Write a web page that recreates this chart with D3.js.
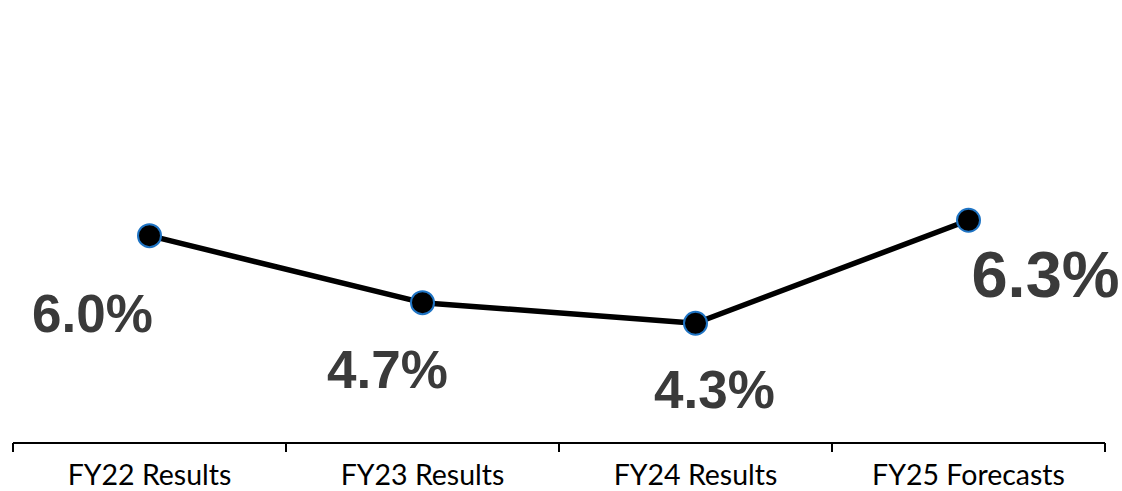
<!DOCTYPE html>
<html>
<head>
<meta charset="utf-8">
<script src="https://cdn.jsdelivr.net/npm/d3@7"></script>
<style>
  body { margin: 0; background: #fff; }
  svg { display: block; }
</style>
</head>
<body>
<svg id="chart" width="1122" height="491"></svg>
<script>
// data
const categories = ["FY22 Results", "FY23 Results", "FY24 Results", "FY25 Forecasts"];
const values = [6.0, 4.7, 4.3, 6.3];
const valueLabels = ["6.0%", "4.7%", "4.3%", "6.3%"];

// label placement, relative to each point (hand placed like the original)
const labelDx = [-57, -35, 19, 77];
const labelDy = [96, 85, 85, 77];
const labelSize = [53, 53, 53, 65];

const width = 1122, height = 491;
const svg = d3.select("#chart");

const x = d3.scaleBand()
  .domain(categories)
  .range([13, 1105])
  .padding(0);

// value axis is hidden, range picked to line up with the picture
const y = d3.scaleLinear()
  .domain([2, 10])
  .range([441.7, 29.7]);

const axisY = 443;

// category axis
const gx = svg.append("g")
  .attr("transform", `translate(0,${axisY})`);

gx.append("line")
  .attr("x1", 13).attr("x2", 1105)
  .attr("stroke", "#000").attr("stroke-width", 2);

// ticks go between categories
const tickXs = [13].concat(categories.map(c => x(c) + x.bandwidth()));
gx.selectAll(".tick-mark")
  .data(tickXs)
  .join("line")
  .attr("class", "tick-mark")
  .attr("x1", d => d).attr("x2", d => d)
  .attr("y1", 0).attr("y2", 9)
  .attr("stroke", "#000").attr("stroke-width", 2);

gx.selectAll(".cat-label")
  .data(categories)
  .join("text")
  .attr("class", "cat-label")
  .attr("x", d => x(d) + x.bandwidth() / 2)
  .attr("y", 42)
  .attr("text-anchor", "middle")
  .attr("font-family", "Lato, 'Open Sans', sans-serif")
  .attr("font-size", 28.5)
  .attr("fill", "#000")
  .text(d => d);

const cx = (d, i) => x(categories[i]) + x.bandwidth() / 2;

// line
const line = d3.line()
  .x((d, i) => cx(d, i))
  .y(d => y(d));

svg.append("path")
  .datum(values)
  .attr("d", line)
  .attr("fill", "none")
  .attr("stroke", "#000")
  .attr("stroke-width", 5.5)
  .attr("stroke-linejoin", "round");

// markers
svg.selectAll(".dot")
  .data(values)
  .join("circle")
  .attr("class", "dot")
  .attr("cx", cx)
  .attr("cy", d => y(d))
  .attr("r", 11.5)
  .attr("fill", "#000")
  .attr("stroke", "#1f74c4")
  .attr("stroke-width", 2);

// value labels
svg.selectAll(".val-label")
  .data(values)
  .join("text")
  .attr("class", "val-label")
  .attr("x", (d, i) => cx(d, i) + labelDx[i])
  .attr("y", (d, i) => y(d) + labelDy[i])
  .attr("text-anchor", "middle")
  .attr("font-family", "'Liberation Sans', Arial, sans-serif")
  .attr("font-weight", "bold")
  .attr("font-size", (d, i) => labelSize[i])
  .attr("fill", "#3a3a3a")
  .text((d, i) => valueLabels[i]);
</script>
</body>
</html>
